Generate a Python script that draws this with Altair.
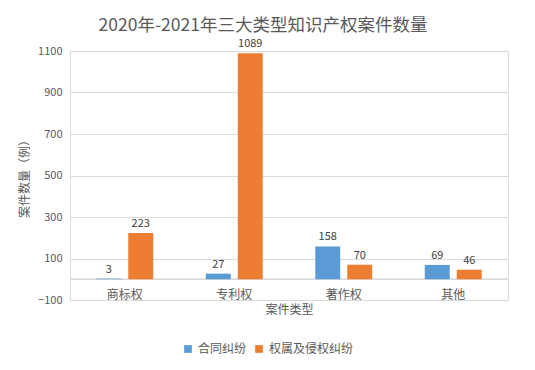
import altair as alt
import pandas as pd

categories = ["商标权", "专利权", "著作权", "其他"]
series = ["合同纠纷", "权属及侵权纠纷"]
contract = [3, 27, 158, 69]
infringe = [223, 1089, 70, 46]
y_ticks = [-100, 100, 300, 500, 700, 900, 1100]

rows = []
for c, a, b in zip(categories, contract, infringe):
    rows.append({"cat": c, "series": series[0], "value": a})
    rows.append({"cat": c, "series": series[1], "value": b})
df = pd.DataFrame(rows)
cat_df = pd.DataFrame({"cat": categories, "zero": [0] * len(categories)})

FONT = "Noto Sans CJK SC"
GRAY = "#595959"

x_enc = alt.X("cat:N", sort=categories,
              scale=alt.Scale(paddingInner=0.48, paddingOuter=0.24),
              axis=alt.Axis(title="案件类型", labels=False, ticks=False, domain=False,
                            titleFont=FONT, titleFontSize=12, titleColor=GRAY,
                            titleFontWeight="normal", titlePadding=4))
y_enc = alt.Y("value:Q",
              scale=alt.Scale(domain=[-100, 1100], nice=False, zero=False),
              axis=alt.Axis(title="案件数量（例）", values=y_ticks, format="d", ticks=False, domain=False,
                            gridColor="#D9D9D9", labelColor=GRAY, labelFontSize=11,
                            labelFont=FONT, labelPadding=8,
                            titleFont=FONT, titleFontSize=12, titleColor=GRAY,
                            titleFontWeight="normal", titlePadding=6))
xoff = alt.XOffset("series:N", sort=series, scale=alt.Scale(paddingInner=0.22))

base = alt.Chart(df)
bars = base.mark_bar().encode(
    x=x_enc, y=y_enc, xOffset=xoff,
    color=alt.Color("series:N", sort=series,
                    scale=alt.Scale(domain=series, range=["#5B9BD5", "#ED7D31"]),
                    legend=alt.Legend(title=None, orient="none", direction="horizontal",
                                      legendX=112, legendY=292, symbolType="square",
                                      symbolSize=60, labelFont=FONT, labelFontSize=12,
                                      labelColor=GRAY, columnPadding=6, symbolStrokeWidth=0)),
)
labels = base.mark_text(dy=-9, fontSize=11, color="#404040", font=FONT).encode(
    x=alt.X("cat:N", sort=categories), y="value:Q", xOffset=xoff, text="value:Q"
)
zero = alt.Chart(cat_df).mark_rule(color="#D9D9D9", strokeWidth=1).encode(
    y=alt.Y("zero:Q")
)
cat_labels = alt.Chart(cat_df).mark_text(dy=16, fontSize=12, color=GRAY, font=FONT).encode(
    x=alt.X("cat:N", sort=categories), y=alt.Y("zero:Q"), text="cat:N"
)

chart = alt.layer(zero, bars, labels, cat_labels).properties(
    width=438, height=249,
    autosize=alt.AutoSizeParams(type="none"),
    padding={"left": 62, "top": 43, "right": 19, "bottom": 62},
    title=alt.TitleParams("2020年-2021年三大类型知识产权案件数量", font=FONT, fontSize=17.5,
                          fontWeight="normal", color=GRAY, anchor="middle", frame="group",
                          offset=3, dx=-26, dy=-1),
).configure_view(stroke=None).configure(background="white")

chart.save("out.html", embed_options={"renderer": "svg", "actions": False})
